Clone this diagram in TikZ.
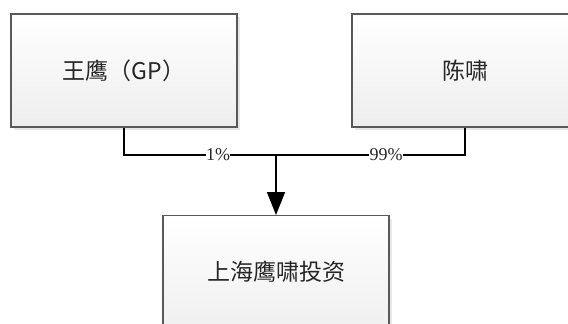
\documentclass[tikz,border=0pt]{standalone}
\usepackage{fontspec}
\setmainfont{Liberation Serif}
\newfontfamily\cjk{Noto Sans CJK SC}
\usetikzlibrary{arrows.meta,shadows}
\begin{document}
\begin{tikzpicture}[x=1pt,y=-1pt,
  box/.style={draw=black!65, line width=1.2pt, top color=white, bottom color=black!7,
    drop shadow={opacity=0.18, shadow xshift=3pt, shadow yshift=-3pt},
    font=\cjk\fontsize{23}{26}\selectfont, text=black!85},
  conn/.style={line width=1.6pt, black},
  pct/.style={fill=white, inner sep=0.5pt, font=\fontsize{18}{20}\selectfont, text=black!85}]
\useasboundingbox (0,0) rectangle (568,324);
\begin{scope}
\clip (0,0) rectangle (568,324);
\node[box, minimum width=226pt, minimum height=113pt, inner sep=0pt] (wy) at (124,70.5) {王鹰（GP）};
\node[box, minimum width=226pt, minimum height=113pt, inner sep=0pt] (cx) at (465,70.5) {陈啸};
\node[box, minimum width=226pt, minimum height=130pt, inner sep=0pt, anchor=north] (sh) at (276,215) {};
\node[font=\cjk\fontsize{23}{26}\selectfont, text=black!85] (shtxt) at (276,272) {上海鹰啸投资};
\end{scope}
\coordinate (j) at (276,155);
\coordinate (a) at (wy.south |- j);
\coordinate (b) at (cx.south |- j);
\draw[conn] (wy.south) -- (a) -- (b) -- (cx.south);
\draw[conn, -{Triangle[length=23pt,width=18pt]}] (j) -- (sh.north);
\node[pct] (p1) at (218,155) {1\%};
\node[pct] (p99) at (386,155) {99\%};
\end{tikzpicture}
\end{document}
